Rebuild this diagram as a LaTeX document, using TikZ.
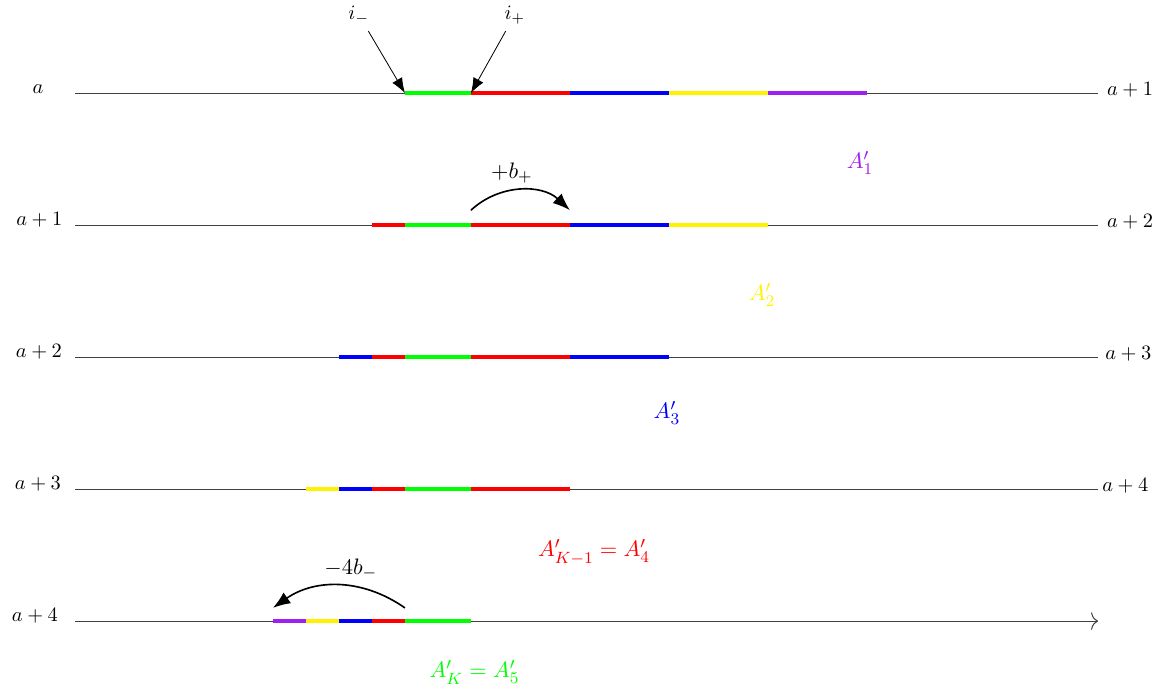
\documentclass[tikz,border=0pt]{standalone}
\usepackage{amsmath,amssymb}
\usepackage{tikz}
\usetikzlibrary{arrows.meta}

\definecolor{violetseg}{RGB}{160,32,240}

\begin{document}
\begin{tikzpicture}[x=0.568cm, y=0.568cm, every node/.style={font=\normalsize}, >={Latex[length=2.6mm]},
	axisline/.style={black!75, line width=0.5pt}, piece/.style={line width=1.6pt},
	biglabel/.style={font=\fontsize{11.4pt}{13pt}\selectfont}]
	\useasboundingbox (-2.27,-18.03) rectangle (32.94,2.82);
	% the five shifted lines and their end labels
	\foreach \k/\y/\xl/\ll in {0/0/-1.12/a, 1/-4/-1.08/a+1, 2/-8/-1.09/a+2, 3/-12/-1.12/a+3, 4/-16/-1.21/a+4} {
		\coordinate (start\k) at (0,\y);
		\coordinate (end\k) at (31,\y);
		\node[anchor=base] (lab\k) at (\xl,\y) {$\ll$};
	}
	\foreach \k/\y/\xr/\rl in {0/0/31.97/a+1, 1/-4/31.97/a+2, 2/-8/31.92/a+3, 3/-12/31.83/a+4} {
		\node[anchor=base] (rlab\k) at (\xr,\y-0.06) {$\rl$};
		\draw[axisline] (start\k) -- (end\k);
	}
	\draw[axisline, -{To[length=1.2mm, width=3mm]}] (start4) -- (end4);
	% coloured blocks
	\foreach \y/\a/\b/\c in {0/10/12/green, 0/12/15/red, 0/15/18/blue, 0/18/21/yellow, 0/21/24/violetseg,
		-4/9/10/red, -4/10/12/green, -4/12/15/red, -4/15/18/blue, -4/18/21/yellow,
		-8/8/9/blue, -8/9/10/red, -8/10/12/green, -8/12/15/red, -8/15/18/blue,
		-12/7/8/yellow, -12/8/9/blue, -12/9/10/red, -12/10/12/green, -12/12/15/red,
		-16/6/7/violetseg, -16/7/8/yellow, -16/8/9/blue, -16/9/10/red, -16/10/12/green} {
		\draw[piece, \c] (\a,\y) -- (\b,\y);
	}
	% i_- and i_+
	\node[anchor=base] (iminus) at (8.6,2.24) {$i_-$};
	\node[anchor=base] (iplus) at (13.33,2.24) {$i_+$};
	\coordinate (gl) at (10,0);
	\coordinate (gr) at (12,0);
	\draw[->] (iminus) -- (gl);
	\draw[->] (iplus) -- (gr);
	% shifts
	\node[biglabel, anchor=base] (bplus) at (13.24,-2.58) {$+b_+$};
	\coordinate (bp0) at (12,-3.55);
	\coordinate (bp1) at (15,-3.55);
	\draw[thick, -{Latex[length=3mm]}] (bp0) to[bend left=43] (bp1);
	\node[biglabel, anchor=base] (bminus) at (8.36,-14.58) {$-4b_-$};
	\coordinate (bm0) at (10,-15.6);
	\coordinate (bm1) at (6,-15.6);
	\draw[thick, -{Latex[length=3mm]}] (bm0) to[bend right=35] (bm1);
	% block names
	\node[biglabel, violetseg] (aone) at (23.79,-2.12) {$A'_1$};
	\node[biglabel, yellow] (atwo) at (20.82,-6.12) {$A'_2$};
	\node[biglabel, blue] (athree) at (17.94,-9.70) {$A'_3$};
	\node[biglabel, red] (afour) at (15.73,-13.91) {$A'_{K-1}=A'_4$};
	\node[biglabel, green] (afive) at (12.11,-17.55) {$A'_K=A'_5$};
\end{tikzpicture}
\end{document}
